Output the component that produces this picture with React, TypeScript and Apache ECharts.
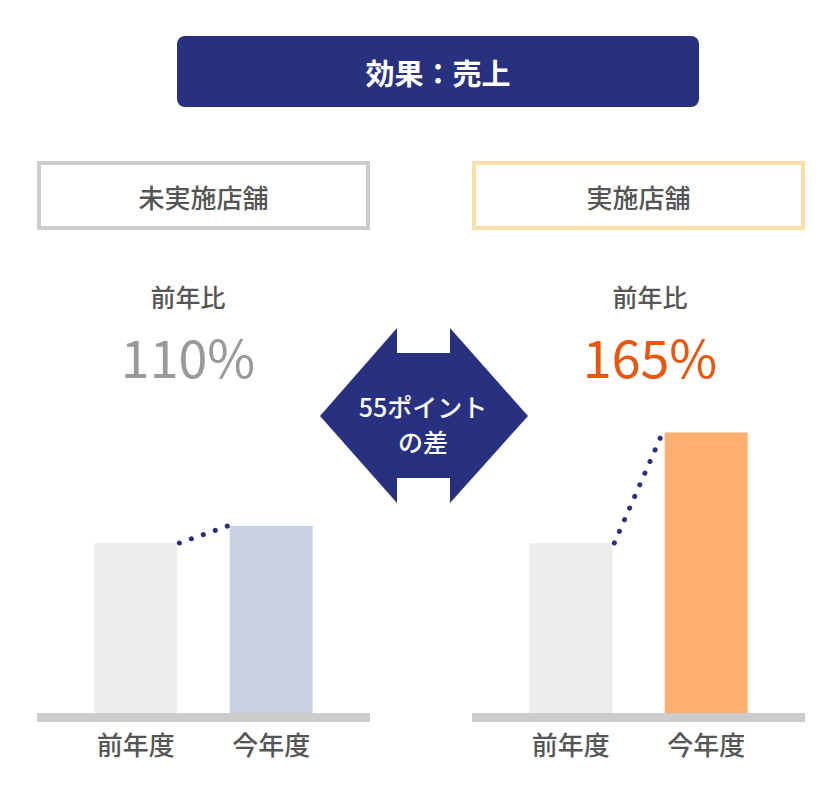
import { useEffect, useRef } from "react";
import * as echarts from "echarts";

const categories = ["前年度", "今年度"];
const groupNames = ["未実施店舗", "実施店舗"];
const untreatedSales = [100, 110];
const treatedSales = [100, 165];
const yTicks = [0, 200];

const NAVY = "#283080";
const FONT = "'Noto Sans CJK JP', 'Noto Sans', sans-serif";
const BAR_WIDTH = 83;
const X_MIN = -0.73;
const X_MAX = 1.73;
const GRID_W = 333;

function ratio(v: number[]) {
  return Math.round((v[1] / v[0]) * 100);
}

function App() {
  const chartRef = useRef<HTMLDivElement>(null);

  useEffect(() => {
    if (!chartRef.current) return;
    const chart = echarts.init(chartRef.current, null, { renderer: "svg" });

    const lefts = [37, 472];
    const series: any[] = [];
    const sets = [untreatedSales, treatedSales];
    const barColors = [
      ["#EDEDED", "#C9D1E0"],
      ["#EDEDED", "#FDAF70"],
    ];
    const unitPx = GRID_W / (X_MAX - X_MIN);
    const hw = (BAR_WIDTH / 2 + 2) / unitPx;

    sets.forEach((vals, g) => {
      series.push({
        type: "bar",
        xAxisIndex: g,
        yAxisIndex: g,
        barWidth: BAR_WIDTH,
        data: vals.map((v, i) => ({
          value: [i, v],
          itemStyle: { color: barColors[g][i] },
        })),
        label: {
          show: true,
          position: "bottom",
          distance: 17,
          formatter: (p: any) => categories[p.dataIndex],
          fontSize: 26,
          fontFamily: FONT,
          fontWeight: 500,
          color: "#555555",
        },
        z: 2,
      });
      series.push({
        type: "line",
        xAxisIndex: g,
        yAxisIndex: g,
        showSymbol: false,
        data: [
          [0 + hw, vals[0]],
          [1 - hw, vals[1]],
        ],
        lineStyle: { color: NAVY, width: 5, type: [0.1, 12.6], cap: "round" },
        z: 3,
      });
    });

    const pctColors = ["#999999", "#E8560F"];
    const textCenters = [188, 650];
    const graphic: any[] = [
      {
        type: "rect",
        shape: { x: 177, y: 36, width: 522, height: 71, r: 8 },
        style: { fill: NAVY },
      },
      {
        type: "text",
        x: 438,
        y: 72,
        style: {
          text: "効果：売上",
          fill: "#ffffff",
          font: `bold 29px ${FONT}`,
          align: "center",
          verticalAlign: "middle",
        },
      },
      {
        type: "polygon",
        shape: {
          points: [
            [320, 416],
            [397, 328],
            [397, 353],
            [450, 353],
            [450, 328],
            [528, 416],
            [450, 503],
            [450, 478],
            [397, 478],
            [397, 503],
          ],
        },
        style: { fill: NAVY },
      },
      {
        type: "text",
        x: 423,
        y: 423,
        style: {
          text: `${treatedSales[1] - untreatedSales[1]}ポイント\nの差`,
          fill: "#ffffff",
          font: `500 25px ${FONT}`,
          lineHeight: 35,
          align: "center",
          verticalAlign: "middle",
        },
      },
    ];

    groupNames.forEach((name, g) => {
      graphic.push({
        type: "rect",
        shape: { x: lefts[g] + 2, y: 163, width: GRID_W - 4, height: 65 },
        style: {
          fill: "#ffffff",
          stroke: g === 0 ? "#CCCCCC" : "#FDDFA8",
          lineWidth: 4,
        },
      });
      graphic.push({
        type: "text",
        x: lefts[g] + GRID_W / 2,
        y: 196,
        style: {
          text: name,
          fill: "#555555",
          font: `500 26px ${FONT}`,
          align: "center",
          verticalAlign: "middle",
        },
      });
      graphic.push({
        type: "text",
        x: textCenters[g],
        y: 296,
        style: {
          text: "前年比",
          fill: "#555555",
          font: `500 25px ${FONT}`,
          lineHeight: 25,
          align: "center",
          verticalAlign: "middle",
        },
      });
      graphic.push({
        type: "text",
        x: textCenters[g],
        y: 355,
        style: {
          text: `${ratio(sets[g])}%`,
          fill: pctColors[g],
          font: `400 52px ${FONT}`,
          lineHeight: 48,
          align: "center",
          verticalAlign: "middle",
        },
      });
    });

    const option = {
      animation: false,
      grid: lefts.map((l) => ({
        left: l,
        width: GRID_W,
        top: 373,
        height: 340,
      })),
      xAxis: lefts.map((_, g) => ({
        type: "value",
        gridIndex: g,
        min: X_MIN,
        max: X_MAX,
        axisLine: {
          show: true,
          onZero: false,
          lineStyle: { color: "#CCCCCC", width: 9, cap: "butt" },
        },
        offset: 4.5,
        axisTick: { show: false },
        axisLabel: { show: false },
        splitLine: { show: false },
      })),
      yAxis: lefts.map((_, g) => ({
        type: "value",
        gridIndex: g,
        min: yTicks[0],
        max: yTicks[1],
        show: false,
      })),
      series,
      graphic,
    };

    chart.setOption(option);

    return () => {
      chart.dispose();
    };
  }, []);

  return (
    <div
      ref={chartRef}
      style={{ position: "absolute", left: 0, top: 0, width: 840, height: 797 }}
    />
  );
}

export default App;
